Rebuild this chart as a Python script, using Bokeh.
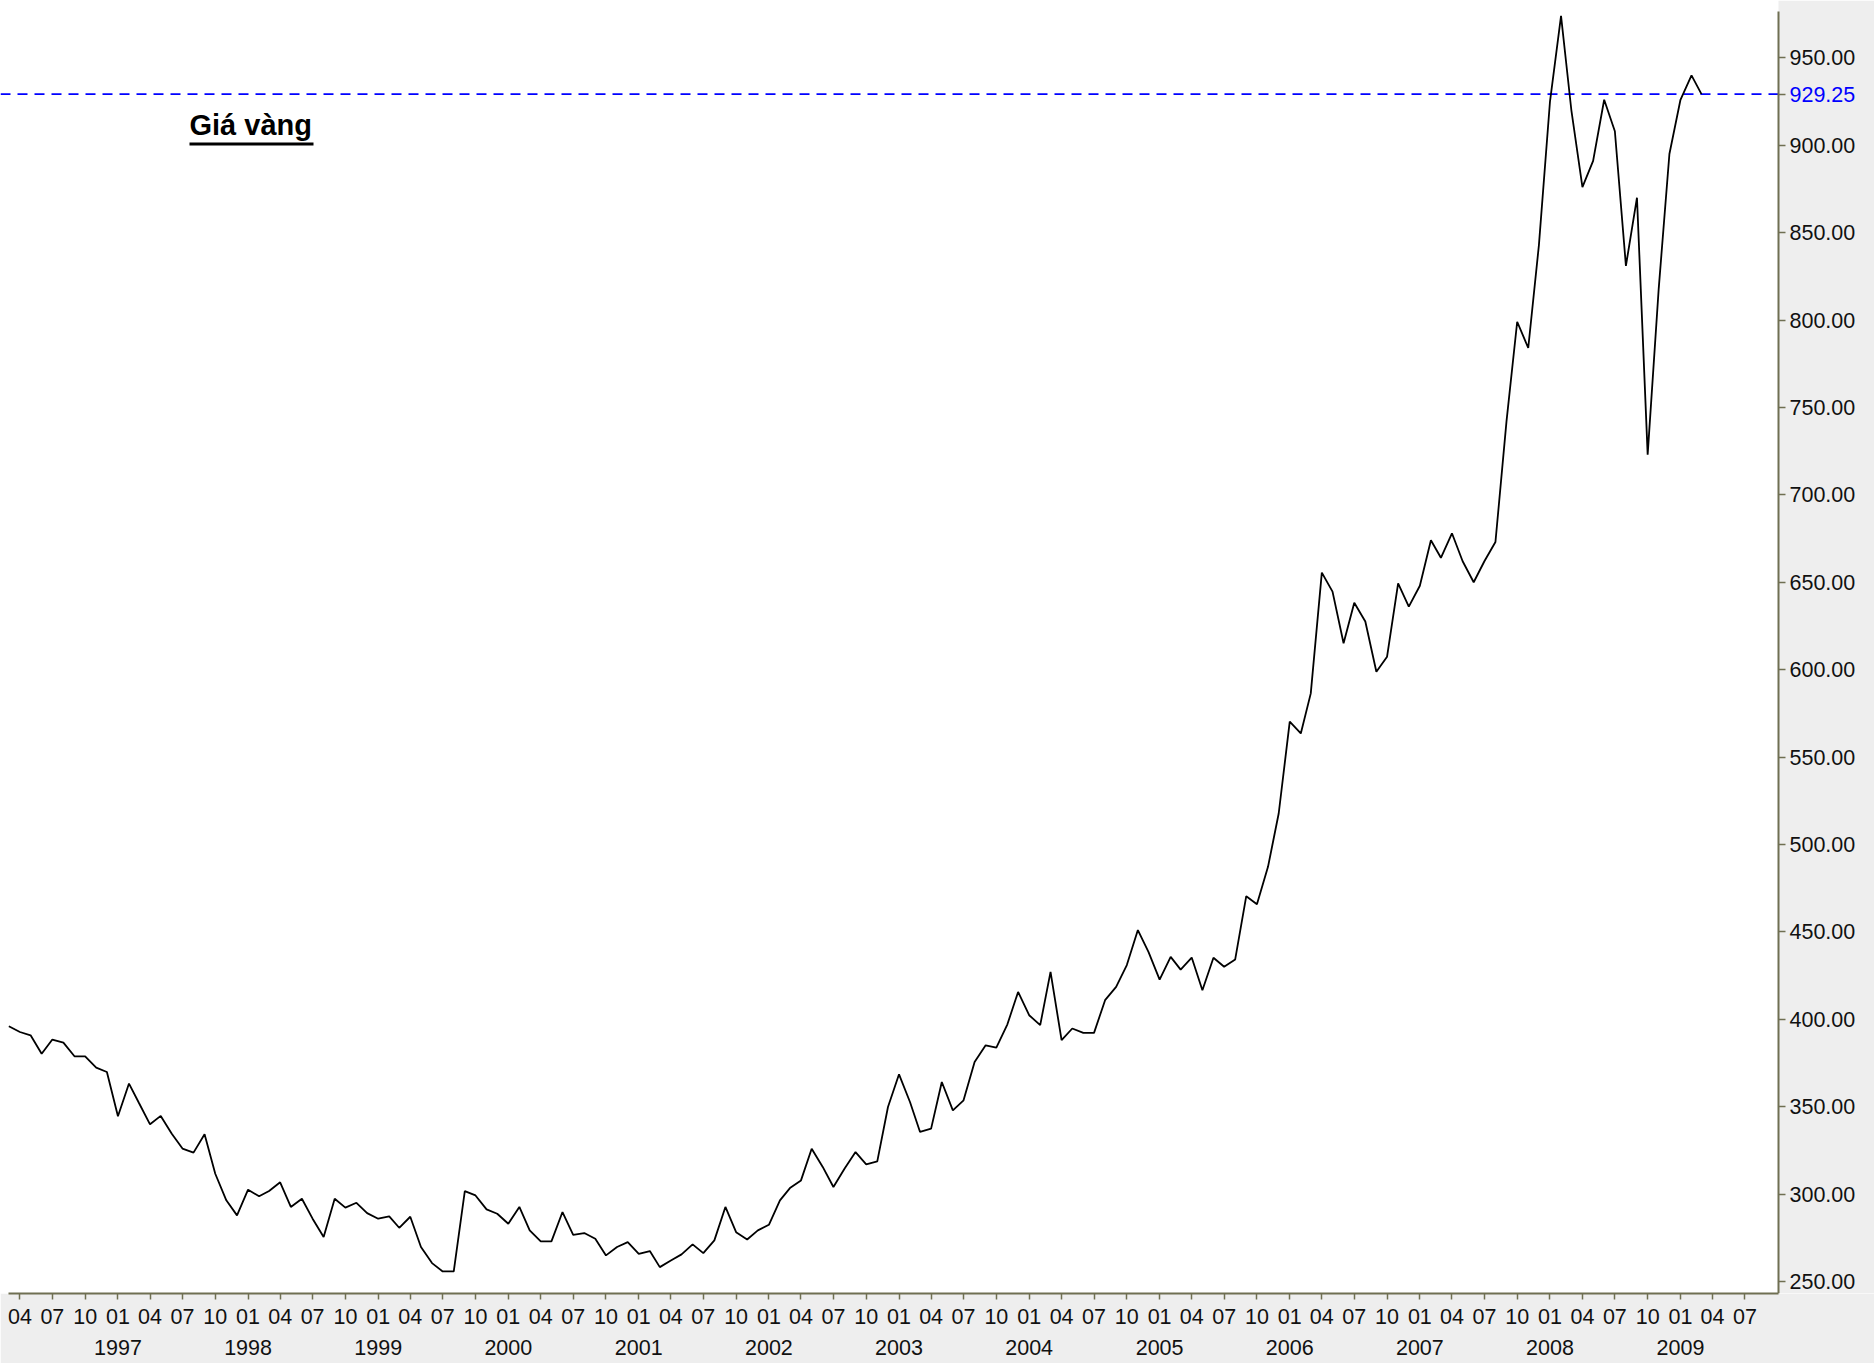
import pandas as pd
from bokeh.plotting import figure
from bokeh.models import (LinearAxis, FixedTicker, CustomJSTickFormatter, Span,
                          Label, BoxAnnotation, Range1d)
from bokeh.embed import file_html
from bokeh.resources import INLINE

# ---------------- data (monthly gold price, USD/oz) ----------------
first_month = "1996-03-01"
prices = [
    396.0, 392.7, 390.8, 380.3, 388.4, 386.6, 378.8, 378.8, 372.3, 369.8,   # 1996-03 .. 1996-12
    344.5, 363.2, 352.1, 339.9, 344.7, 334.5, 326.0, 323.7, 334.2, 311.6,   # 1997-01 .. 1997-10
    296.4, 287.8, 302.5, 298.7, 301.7, 306.7, 292.6, 297.3, 285.9, 275.4,   # 1997-11 .. 1998-08
    297.3, 292.2, 295.0, 289.1, 285.9, 287.2, 280.7, 287.0, 269.7, 260.5,   # 1998-09 .. 1999-06
    255.7, 255.7, 301.7, 299.2, 291.2, 288.7, 283.0, 292.6, 279.2, 272.9,   # 1999-07 .. 2000-04
    272.9, 289.7, 276.7, 277.7, 274.4, 264.9, 269.7, 272.5, 265.8, 267.4,   # 2000-05 .. 2001-02
    258.2, 262.0, 265.5, 271.2, 266.2, 273.5, 292.6, 278.2, 274.0, 279.2,   # 2001-03 .. 2001-12
    282.4, 296.4, 303.4, 307.8, 325.9, 315.5, 304.0, 314.5, 324.0, 317.0,   # 2002-01 .. 2002-10
    318.7, 349.8, 368.5, 352.5, 335.5, 337.4, 364.1, 347.9, 353.6, 375.6,   # 2002-11 .. 2003-08
    385.1, 383.8, 397.1, 415.6, 402.3, 396.6, 427.1, 388.0, 394.7, 392.2,   # 2003-09 .. 2004-06
    392.2, 410.9, 418.5, 431.0, 451.0, 438.4, 422.7, 435.7, 428.4, 435.3,   # 2004-07 .. 2005-04
    416.6, 435.2, 430.0, 434.2, 470.4, 465.8, 487.2, 517.7, 570.2, 563.5,   # 2005-05 .. 2006-02
    586.4, 655.5, 644.6, 615.1, 638.3, 627.5, 598.8, 607.4, 649.4, 636.0,   # 2006-03 .. 2006-12
    648.0, 674.0, 664.0, 678.0, 662.0, 650.0, 662.0, 673.0, 742.0, 799.0,   # 2007-01 .. 2007-10
    784.0, 843.0, 925.0, 974.0, 920.0, 876.0, 891.0, 926.0, 908.0, 831.0,   # 2007-11 .. 2008-08
    870.0, 723.0, 818.0, 895.0, 926.0, 940.0, 929.25,                       # 2008-09 .. 2009-03
]
last_price = 929.25
price_ticks = [250, 300, 350, 400, 450, 500, 550, 600, 650, 700, 750, 800, 850, 900, 950]
first_quarter_tick = "1996-04-01"
last_quarter_tick = "2009-07-01"
first_year_tick = "1997-01-01"
last_year_tick = "2009-01-01"
title_text = "Giá vàng"

# ---------------- derived ----------------
epoch = pd.Timestamp("1970-01-01")
ONE_MS = pd.Timedelta("1ms")
def to_ms(ts):
    return [float(v) for v in (pd.DatetimeIndex(ts) - epoch) // ONE_MS]

dates = pd.date_range(first_month, periods=len(prices), freq="MS")
quarter_ms = to_ms(pd.date_range(first_quarter_tick, last_quarter_tick, freq="QS-JAN"))
year_ms = to_ms(pd.date_range(first_year_tick, last_year_tick, freq="YS"))

# visible (white) chart area
x_lo = pd.Timestamp("1996-02-29")
x_hi = pd.Timestamp("2009-10-03")
y_lo, y_hi = 243.1, 976.5
x_lo_ms = float((x_lo - epoch) // ONE_MS)
x_hi_ms = float((x_hi - epoch) // ONE_MS)

# layout (pixels)
FIG_W = 1874
LEFT_PAD = 8          # white strip left of the chart
CHART_W = 1770        # white chart width
TOP_PAD = 11          # white strip above the chart
CHART_H = 1282
FRAME_H = TOP_PAD + CHART_H
BOTTOM_PANEL = 70

ms_per_px = (x_hi_ms - x_lo_ms) / CHART_W
val_per_px = (y_hi - y_lo) / CHART_H
x_range = Range1d(x_lo_ms - LEFT_PAD * ms_per_px,
                  x_hi_ms + (FIG_W - LEFT_PAD - CHART_W) * ms_per_px)
y_range = Range1d(y_lo, y_hi + TOP_PAD * val_per_px)

NUM_FONT = "Liberation Sans"
NUM_SIZE = "21.5px"
AXIS_COLOR = "#6f6f52"
BG_OUT = "#eeeeee"

p = figure(frame_width=FIG_W, frame_height=FRAME_H,
           x_axis_type=None, y_axis_type=None,
           x_range=x_range, y_range=y_range,
           output_backend="svg", toolbar_location=None,
           min_border_left=0, min_border_top=0, min_border_right=0,
           min_border_bottom=BOTTOM_PANEL,
           background_fill_color="white", border_fill_color=BG_OUT,
           outline_line_color=None)
p.xgrid.visible = False
p.ygrid.visible = False

# dashed reference line (under the grey axis panel)
p.add_layout(Span(location=last_price, dimension="width", line_color="#0000ff",
                  line_dash="10 7", line_width=1.8, level="underlay"))
# grey area right of the chart (price-axis panel)
p.add_layout(BoxAnnotation(left=x_hi_ms, fill_color=BG_OUT, fill_alpha=1.0,
                           line_color=None, level="underlay"))

p.line(dates, prices, line_color="black", line_width=1.8)

def style_axis(ax):
    ax.axis_line_color = AXIS_COLOR
    ax.axis_line_width = 2
    ax.major_tick_line_color = AXIS_COLOR
    ax.major_tick_line_width = 1.5
    ax.major_tick_in = 0
    ax.minor_tick_line_color = None
    ax.major_label_text_font = NUM_FONT
    ax.major_label_text_font_size = NUM_SIZE
    ax.major_label_text_color = "#111111"

# right price axis, drawn at the right edge of the white chart
yax = LinearAxis(ticker=FixedTicker(ticks=price_ticks + [last_price]),
                 fixed_location=x_hi_ms, bounds=(y_lo, y_hi),
                 formatter=CustomJSTickFormatter(args=dict(ref=last_price),
                     code="return Math.abs(tick - ref) < 1e-6 ? '' : tick.toFixed(2);"))
style_axis(yax)
yax.major_tick_out = 7
yax.major_label_standoff = 4
p.add_layout(yax, "right")

# blue label of the current price
cur_ax = LinearAxis(ticker=FixedTicker(ticks=[last_price]), fixed_location=x_hi_ms,
                    formatter=CustomJSTickFormatter(code="return tick.toFixed(2);"))
style_axis(cur_ax)
cur_ax.axis_line_color = None
cur_ax.major_tick_line_color = None
cur_ax.major_tick_out = 7
cur_ax.major_label_standoff = 4
cur_ax.major_label_text_color = "#0000ff"
p.add_layout(cur_ax, "right")

# bottom month axis
xax = LinearAxis(ticker=FixedTicker(ticks=quarter_ms), bounds=(x_lo_ms, x_hi_ms),
                 formatter=CustomJSTickFormatter(code="""
                     const d = new Date(tick);
                     const m = d.getUTCMonth() + 1;
                     return (m < 10 ? '0' : '') + m;"""))
style_axis(xax)
xax.major_tick_out = 6
xax.major_label_standoff = 9
p.add_layout(xax, "below")

# bottom year axis
yrax = LinearAxis(ticker=FixedTicker(ticks=year_ms),
                  formatter=CustomJSTickFormatter(code="return String(new Date(tick).getUTCFullYear());"))
style_axis(yrax)
yrax.axis_line_color = None
yrax.major_tick_line_color = None
yrax.major_tick_out = 0
yrax.major_label_standoff = 13
p.add_layout(yrax, "below")

# title with underline
p.add_layout(Label(x=189, y=1169, x_units="screen", y_units="screen", text=title_text,
                   text_font="Liberation Sans", text_font_style="bold", text_font_size="29px",
                   text_color="black", text_baseline="alphabetic", text_align="left"))
p.add_layout(BoxAnnotation(left=189, right=313, bottom=1148, top=1151,
                           left_units="screen", right_units="screen",
                           bottom_units="screen", top_units="screen",
                           fill_color="black", fill_alpha=1.0, line_color=None))

open("out.html", "w").write(file_html(p, INLINE))
